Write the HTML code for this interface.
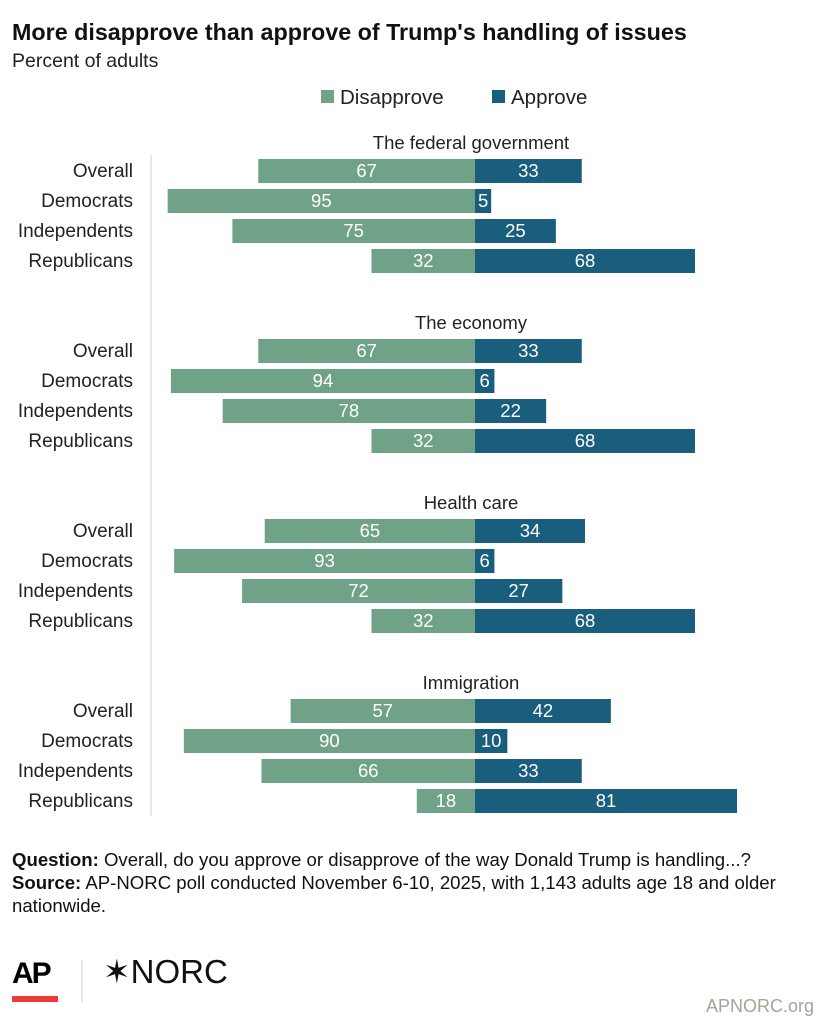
<!DOCTYPE html>
<html><head><meta charset="utf-8">
<style>
body{margin:0;background:#fff;font-family:"Liberation Sans",Arial,sans-serif;}
#wrap{position:relative;width:826px;height:1024px;overflow:hidden;background:#fff;}
</style></head>
<body>
<div id="wrap">
<svg id="chart" width="826" height="1024" xmlns="http://www.w3.org/2000/svg">
<text x="12" y="40" font-size="23.3" font-weight="bold" fill="#111">More disapprove than approve of Trump's handling of issues</text>
<text x="12" y="67" font-size="19.5" fill="#222">Percent of adults</text>
<rect x="321" y="90" width="13" height="13" fill="#6fa287"/>
<text x="340" y="104" font-size="20.5" fill="#222">Disapprove</text>
<rect x="492" y="90" width="13" height="13" fill="#1a5e7e"/>
<text x="511" y="104" font-size="20.5" fill="#222">Approve</text>
<line x1="151" y1="155" x2="151" y2="816" stroke="#ddd" stroke-width="1.5"/>
<g id="bars"></g>
<text x="12" y="866" font-size="18.6" fill="#111"><tspan font-weight="bold">Question:</tspan> Overall, do you approve or disapprove of the way Donald Trump is handling...?</text>
<text x="12" y="889" font-size="18.6" fill="#111"><tspan font-weight="bold">Source:</tspan> AP-NORC poll conducted November 6-10, 2025, with 1,143 adults age 18 and older</text>
<text x="12" y="912" font-size="18.6" fill="#111">nationwide.</text>
<text x="12" y="983" font-size="30" font-weight="bold" fill="#000" letter-spacing="-2">AP</text>
<rect x="12" y="996" width="46" height="6" fill="#ef3b36"/>
<line x1="82" y1="960" x2="82" y2="1002" stroke="#ccc"/>
<text x="103" y="983" font-size="33" fill="#111">✶NORC</text>
<text x="814" y="1012" font-size="18" fill="#a8a297" text-anchor="end">APNORC.org</text>
</svg>
</div>
<script>
const groups = ["The federal government","The economy","Health care","Immigration"];
const rowLabels = ["Overall","Democrats","Independents","Republicans"];
const disapprove = [[67,95,75,32],[67,94,78,32],[65,93,72,32],[57,90,66,18]];
const approve = [[33,5,25,68],[33,6,22,68],[34,6,27,68],[42,10,33,81]];
const NS="http://www.w3.org/2000/svg";
const zero=475, scale=3.235;
function xs(v){return v*scale;}
const g=document.getElementById('bars');
function mk(tag,attrs){const e=document.createElementNS(NS,tag);for(const k in attrs)e.setAttribute(k,attrs[k]);g.appendChild(e);return e;}
groups.forEach((gn,gi)=>{
  const gy=143+gi*180;
  const t=mk('text',{x:471,y:gy+6,'font-size':18.5,fill:'#222','text-anchor':'middle'});
  t.textContent=gn;
  
  
  rowLabels.forEach((rl,ri)=>{
    const cy=gy+28+ri*30;
    const l=mk('text',{x:133,y:cy+6,'font-size':19,fill:'#222','text-anchor':'end'});
    l.textContent=rl;
    
    
    const d=disapprove[gi][ri], a=approve[gi][ri];
    const rd=mk('rect',{x:zero-xs(d),y:cy-12,width:xs(d),height:24,fill:'#6fa287'});
    
    
    const ra=mk('rect',{x:zero,y:cy-12,width:xs(a),height:24,fill:'#1a5e7e'});
    
    
    const td=mk('text',{x:zero-xs(d)/2,y:cy+6,'font-size':18.5,fill:'#fff','text-anchor':'middle'});
    td.textContent=d;
    
    
    const ta=mk('text',{x:zero+xs(a)/2,y:cy+6,'font-size':18.5,fill:'#fff','text-anchor':'middle'});
    ta.textContent=a;
    
    
  });
});
</script>
</body></html>
